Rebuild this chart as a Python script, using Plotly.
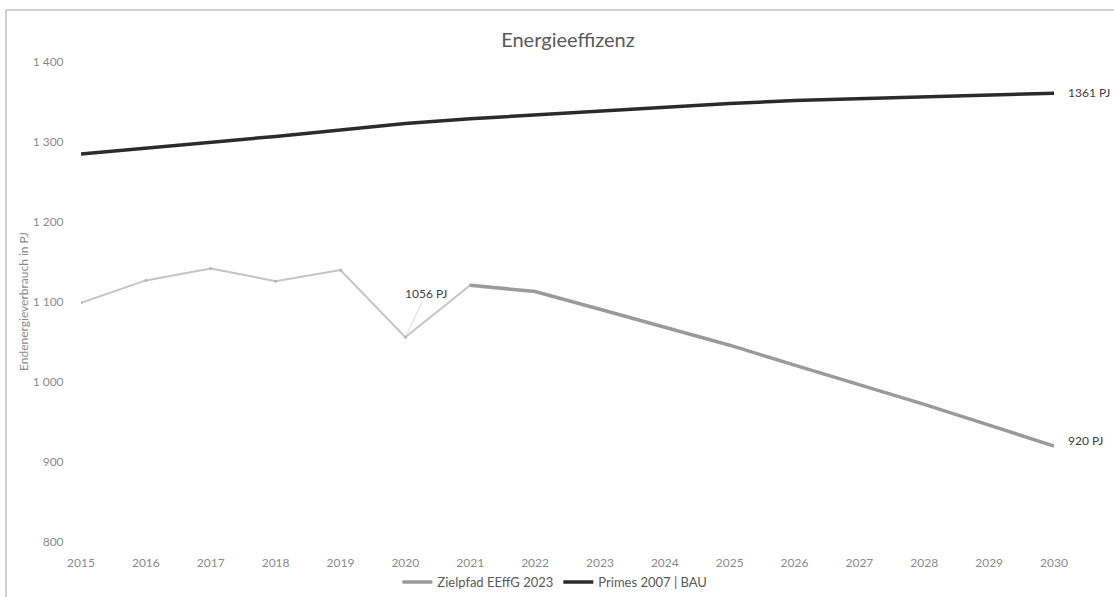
import plotly.graph_objects as go

years_hist = [2015, 2016, 2017, 2018, 2019, 2020, 2021]
ziel_hist = [1099, 1127, 1142, 1126, 1140, 1056, 1121]

years_path = [2021, 2022, 2023, 2024, 2025, 2026, 2027, 2028, 2029, 2030]
ziel_path = [1121, 1113, 1091, 1069, 1046, 1021, 997, 972, 946, 920]

years_primes = list(range(2015, 2031))
primes = [1285, 1292, 1300, 1307, 1315, 1323, 1329, 1334, 1339, 1344,
          1348, 1352, 1354, 1357, 1359, 1361]

y_ticks = [800, 900, 1000, 1100, 1200, 1300, 1400]
y_ticktext = ["800", "900", "1 000", "1 100", "1 200", "1 300", "1 400"]
x_ticks = list(range(2015, 2031))

FONT = "Lato"
W, H = 1114, 597
L, R, T, B = 81, 60, 62, 55

fig = go.Figure()

fig.add_trace(go.Scatter(
    x=years_hist, y=ziel_hist, mode="lines+markers",
    line=dict(color="#c4c4c4", width=2),
    marker=dict(color="#b5b5b5", size=3),
    showlegend=False, hoverinfo="skip"))

fig.add_trace(go.Scatter(
    x=years_path, y=ziel_path, mode="lines",
    line=dict(color="#9a9a9a", width=3.5),
    name="Zielpfad EEffG 2023"))

fig.add_trace(go.Scatter(
    x=years_primes, y=primes, mode="lines",
    line=dict(color="#2b2b2b", width=3.5),
    name="Primes 2007 | BAU"))

ann_font = dict(family=FONT, size=12, color="#404040")
fig.add_annotation(x=2020, y=ziel_hist[5], text="1056 PJ", showarrow=True,
                   ax=21, ay=-44, arrowhead=0, arrowwidth=0.8,
                   arrowcolor="#d0d0d0", standoff=3, font=ann_font)
fig.add_annotation(x=2030, y=ziel_path[-1], text="920 PJ", showarrow=False,
                   xanchor="left", yanchor="middle", xshift=12, yshift=6,
                   font=ann_font)
fig.add_annotation(x=2030, y=primes[-1], text="1361 PJ", showarrow=False,
                   xanchor="left", yanchor="middle", xshift=12, yshift=1,
                   font=ann_font)

pw = W - L - R
ph = H - T - B
fig.add_annotation(xref="paper", yref="paper", x=(23 - L) / pw, y=0.5,
                   xanchor="center", yanchor="middle",
                   text="Endenergieverbrauch in PJ", textangle=-90,
                   showarrow=False, font=dict(family=FONT, size=12, color="#8a8a8a"))

# chart frame (top and left edges)
fig.add_shape(type="line", xref="paper", yref="paper",
              x0=(6 - L) / pw, x1=(W - L) / pw,
              y0=(H - B - 10) / ph, y1=(H - B - 10) / ph,
              line=dict(color="#a0a0a0", width=1))
fig.add_shape(type="line", xref="paper", yref="paper",
              x0=(6 - L) / pw, x1=(6 - L) / pw,
              y0=(H - B - 10) / ph, y1=-B / ph,
              line=dict(color="#a0a0a0", width=1))

fig.update_layout(
    width=W, height=H, autosize=False,
    margin=dict(l=L, r=R, t=T, b=B, autoexpand=False),
    paper_bgcolor="white", plot_bgcolor="white",
    title=dict(text="Energieeffizenz", x=568 / W, xanchor="center",
               y=1 - 40 / H, yanchor="middle",
               font=dict(family=FONT, size=20, color="#595959")),
    legend=dict(orientation="h", x=0.487, xanchor="center",
                y=-(582 - (H - B)) / ph, yanchor="middle",
                font=dict(family=FONT, size=13, color="#595959"),
                itemwidth=30, bgcolor="rgba(0,0,0,0)"),
    font=dict(family=FONT),
)

fig.update_xaxes(range=[2015, 2030], tickvals=x_ticks, automargin=False,
                 ticks="outside", ticklen=10, tickcolor="rgba(0,0,0,0)",
                 showgrid=False, zeroline=False, showline=False,
                 tickfont=dict(family=FONT, size=12, color="#8a8a8a"))
fig.update_yaxes(range=[800, 1400], tickvals=y_ticks, ticktext=y_ticktext,
                 automargin=False,
                 ticks="outside", ticklen=14, tickcolor="rgba(0,0,0,0)",
                 showgrid=False, zeroline=False, showline=False,
                 tickfont=dict(family=FONT, size=12, color="#8a8a8a"))

fig.write_html("out.html", config={"displayModeBar": False},
               post_script="document.body.style.margin='0';document.body.style.overflow='hidden';")
